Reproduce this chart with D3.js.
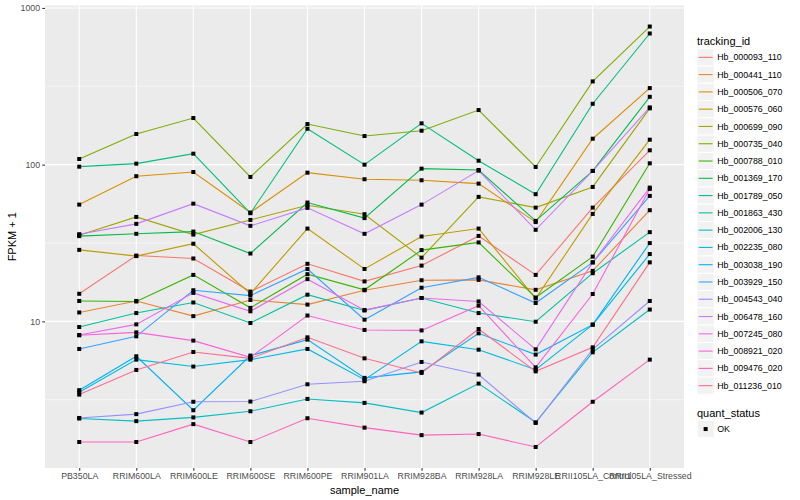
<!DOCTYPE html>
<html><head><meta charset="utf-8">
<script src="https://cdn.jsdelivr.net/npm/d3@7"></script>
<style>body{margin:0;background:#fff} text{font-family:"Liberation Sans",Arial,Helvetica,sans-serif}</style>
</head><body><svg id="c" width="800" height="500"></svg>
<script>
const samples = ["PB350LA","RRIM600LA","RRIM600LE","RRIM600SE","RRIM600PE","RRIM901LA","RRIM928BA","RRIM928LA","RRIM928LE","RRII105LA_Control","RRII105LA_Stressed"];
const trackingIds = ["Hb_000093_110","Hb_000441_110","Hb_000506_070","Hb_000576_060","Hb_000699_090","Hb_000735_040","Hb_000788_010","Hb_001369_170","Hb_001789_050","Hb_001863_430","Hb_002006_130","Hb_002235_080","Hb_003038_190","Hb_003929_150","Hb_004543_040","Hb_006478_160","Hb_007245_080","Hb_008921_020","Hb_009476_020","Hb_011236_010"];
const colors = ["#F8766D","#EA8331","#D89000","#C09B00","#A3A500","#7CAE00","#39B600","#00BB4E","#00BF7D","#00C1A3","#00BFC4","#00BAE0","#00B0F6","#35A2FF","#9590FF","#C77CFF","#E76BF3","#FA62DB","#FF62BC","#FF6C91"];
const yTicks = [10, 100, 1000];
const quantStatus = ["OK"];

// FPKM + 1 values, one array per tracking_id, in sample order
const hb_000093_110 = [15.0, 26.3, 25.2, 15.5, 23.3, 18.0, 22.7, 35.1, 19.8, 53.2, 123.5];
const hb_000441_110 = [11.4, 13.5, 10.8, 13.7, 12.8, 15.8, 18.3, 18.4, 15.9, 21.0, 51.2];
const hb_000506_070 = [55.6, 84.4, 89.8, 49.5, 88.9, 80.7, 79.5, 75.7, 43.0, 146.4, 308];
const hb_000576_060 = [28.6, 26.1, 31.3, 15.0, 39.1, 21.6, 34.8, 39.1, 14.0, 48.5, 144.3];
const hb_000699_090 = [35.5, 46.4, 35.8, 44.4, 55.1, 48.3, 25.5, 62.3, 53.2, 72.1, 228.7];
const hb_000735_040 = [108.7, 156.9, 198.4, 83.5, 181.6, 152.3, 164.7, 223.1, 96.7, 339.8, 761];
const hb_000788_010 = [13.5, 13.4, 19.8, 12.2, 20.0, 15.9, 28.5, 31.9, 14.2, 25.9, 102];
const hb_001369_170 = [35.0, 36.2, 37.4, 27.1, 57.3, 45.6, 94.3, 92.5, 43.8, 91.2, 271];
const hb_001789_050 = [97.1, 101.5, 117.5, 49.0, 169.5, 100, 183.5, 106, 64.8, 244.6, 687];
const hb_001863_430 = [9.21, 11.3, 13.2, 9.77, 14.8, 11.75, 14.1, 11.3, 9.95, 20.3, 37.1];
const hb_002006_130 = [2.40, 2.31, 2.44, 2.67, 3.20, 3.02, 2.62, 4.01, 2.27, 6.35, 11.9];
const hb_002235_080 = [3.53, 5.70, 5.15, 5.70, 6.67, 4.25, 7.46, 6.60, 4.92, 9.53, 26.9];
const hb_003038_190 = [3.64, 5.99, 2.71, 6.05, 7.65, 4.36, 4.76, 8.39, 6.14, 9.53, 31.6];
const hb_003929_150 = [6.67, 8.03, 15.8, 14.6, 21.6, 10.25, 16.4, 19.1, 13.1, 23.8, 63.2];
const hb_004543_040 = [2.42, 2.56, 3.07, 3.08, 3.97, 4.15, 5.51, 4.58, 2.25, 6.63, 13.5];
const hb_006478_160 = [36.0, 41.9, 56.4, 40.7, 53.0, 36.2, 55.6, 91.6, 38.4, 91.2, 232];
const hb_007245_080 = [8.19, 9.57, 15.2, 11.6, 18.6, 11.8, 14.1, 13.4, 6.63, 23.8, 71.4];
const hb_008921_020 = [8.15, 8.51, 7.54, 5.90, 10.9, 8.82, 8.76, 12.6, 5.09, 14.95, 70.0];
const hb_009476_020 = [1.70, 1.70, 2.21, 1.70, 2.41, 2.10, 1.88, 1.91, 1.58, 3.07, 5.70];
const hb_011236_010 = [3.41, 4.90, 6.38, 5.81, 7.91, 5.81, 4.69, 8.94, 4.80, 6.83, 23.8];

const seriesValues = [hb_000093_110, hb_000441_110, hb_000506_070, hb_000576_060, hb_000699_090, hb_000735_040, hb_000788_010, hb_001369_170, hb_001789_050, hb_001863_430, hb_002006_130, hb_002235_080, hb_003038_190, hb_003929_150, hb_004543_040, hb_006478_160, hb_007245_080, hb_008921_020, hb_009476_020, hb_011236_010];

const series = trackingIds.map((id, i) => ({id, color: colors[i], values: seriesValues[i].map((v, j) => ({sample: samples[j], v}))}));

const svg = d3.select("#c");
const P = {l: 45, r: 684, t: 5.5, b: 468};

// ggplot-like 5% expansion on log scale
const all = seriesValues.flat();
const lmin = Math.log10(d3.min(all)), lmax = Math.log10(d3.max(all));
const ex = (lmax - lmin) * 0.05;
const y = d3.scaleLog().domain([Math.pow(10, lmin - ex), Math.pow(10, lmax + ex)]).range([P.b, P.t]);
const x = d3.scalePoint().domain(samples).range([P.l, P.r]).padding(0.6);

svg.append("rect").attr("x", P.l).attr("y", P.t).attr("width", P.r - P.l).attr("height", P.b - P.t).attr("fill", "#EBEBEB");

const minor = [Math.pow(10, 0.5), Math.pow(10, 1.5), Math.pow(10, 2.5)];
svg.append("g").selectAll("line").data(minor).join("line")
  .attr("x1", P.l).attr("x2", P.r).attr("y1", d => y(d)).attr("y2", d => y(d))
  .attr("stroke", "#fff").attr("stroke-width", 0.55);
svg.append("g").selectAll("line").data(yTicks).join("line")
  .attr("x1", P.l).attr("x2", P.r).attr("y1", d => y(d)).attr("y2", d => y(d))
  .attr("stroke", "#fff").attr("stroke-width", 1.1);
svg.append("g").selectAll("line").data(samples).join("line")
  .attr("x1", d => x(d)).attr("x2", d => x(d)).attr("y1", P.t).attr("y2", P.b)
  .attr("stroke", "#fff").attr("stroke-width", 1.1);

// axes
const yAxis = svg.append("g").attr("transform", `translate(${P.l},0)`)
  .call(d3.axisLeft(y).tickValues(yTicks).tickFormat(d3.format("d")).tickSize(2.75).tickPadding(2.2));
const xAxis = svg.append("g").attr("transform", `translate(0,${P.b})`)
  .call(d3.axisBottom(x).tickSize(2.75).tickPadding(2.2));
[yAxis, xAxis].forEach(a => {
  a.select(".domain").remove();
  a.selectAll(".tick line").attr("stroke", "#333333").attr("stroke-width", 1.07);
  a.selectAll(".tick text").attr("fill", "#4D4D4D").style("font-size", "8.8px").style("font-family", '"Liberation Sans",Arial,sans-serif');
});

// lines
const line = d3.line().x(d => x(d.sample)).y(d => y(d.v));
svg.append("g").selectAll("path").data(series).join("path")
  .attr("d", d => line(d.values)).attr("fill", "none")
  .attr("stroke", d => d.color).attr("stroke-width", 1.1);

// points
svg.append("g").selectAll("rect").data(series.flatMap(s => s.values)).join("rect")
  .attr("x", d => x(d.sample) - 2).attr("y", d => y(d.v) - 2)
  .attr("width", 4).attr("height", 4).attr("fill", "#000");

// axis titles
svg.append("text").attr("x", (P.l + P.r) / 2).attr("y", 494).attr("text-anchor", "middle")
  .style("font-size", "11px").attr("fill", "#000").text("sample_name");
svg.append("text").attr("transform", `translate(16,${(P.t + P.b) / 2}) rotate(-90)`).attr("text-anchor", "middle")
  .style("font-size", "11px").attr("fill", "#000").text("FPKM + 1");

// legend: tracking_id
const L = {x: 697, y0: 48.7, k: 17.28};
svg.append("text").attr("x", L.x).attr("y", 44.5).style("font-size", "11px").text("tracking_id");
const lg = svg.append("g").selectAll("g").data(series).join("g")
  .attr("transform", (d, i) => `translate(${L.x},${L.y0 + i * L.k})`);
lg.append("rect").attr("width", L.k).attr("height", L.k).attr("fill", "#F2F2F2").attr("stroke", "#fff").attr("stroke-width", 1);
lg.append("line").attr("x1", 1.7).attr("x2", L.k - 1.7).attr("y1", L.k / 2).attr("y2", L.k / 2)
  .attr("stroke", d => d.color).attr("stroke-width", 1.1);
lg.append("text").attr("x", L.k + 3).attr("y", L.k / 2).attr("dy", "0.35em")
  .style("font-size", "8.8px").text(d => d.id);

// legend: quant_status
svg.append("text").attr("x", L.x).attr("y", 416.5).style("font-size", "11px").text("quant_status");
const qg = svg.append("g").selectAll("g").data(quantStatus).join("g")
  .attr("transform", (d, i) => `translate(${L.x},${420.4 + i * L.k})`);
qg.append("rect").attr("width", L.k).attr("height", L.k).attr("fill", "#F2F2F2").attr("stroke", "#fff");
qg.append("rect").attr("x", L.k / 2 - 2).attr("y", L.k / 2 - 2).attr("width", 4).attr("height", 4).attr("fill", "#000");
qg.append("text").attr("x", L.k + 3).attr("y", L.k / 2).attr("dy", "0.35em").style("font-size", "8.8px").text(d => d);
</script></body></html>
